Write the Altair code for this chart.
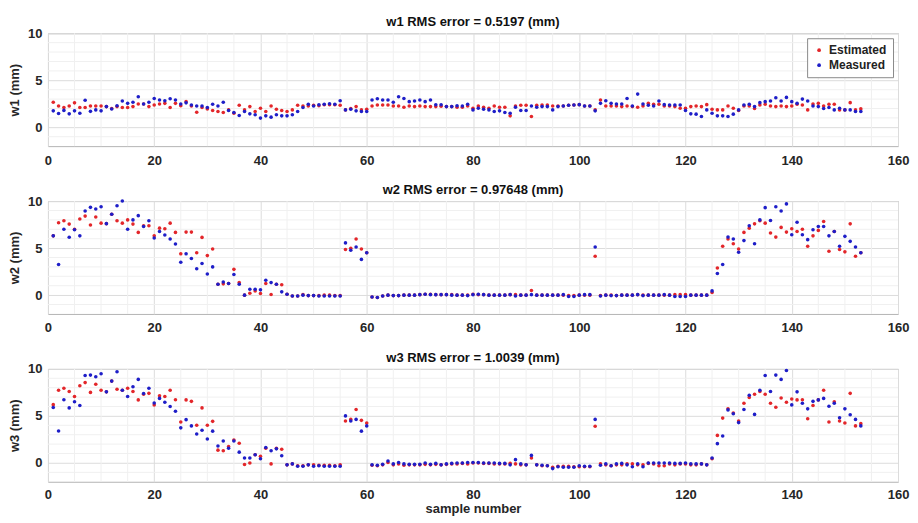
import altair as alt
import pandas as pd

samples = list(range(1, 154))

w1_est = [2.66, 2.27, 2.1, 2.27, 2.6, 2.1, 2.1, 2.27, 2.27, 2.27,
          2.2, 2.0, 2.2, 2.1, 2.1, 2.2, 2.48, 2.48, 2.2, 2.38,
          2.48, 2.55, 2.1, 2.55, 2.3, 2.73, 2.27, 1.6, 2.1, 1.96,
          1.78, 1.68, 1.57, 1.85, 1.5, 2.34, 1.85, 2.2, 1.68, 2.03,
          1.68, 2.27, 1.92, 1.78, 1.68, 1.85, 2.34, 2.27, 2.27, 2.34,
          2.3, 2.4, 2.4, 2.4, 2.35, 1.85, 2.0, 2.2, 1.85, 1.92,
          2.27, 2.38, 2.38, 2.38, 2.27, 2.27, 2.13, 2.27, 2.2, 2.27,
          2.2, 2.2, 2.2, 2.25, 2.2, 2.2, 2.13, 2.13, 2.27, 2.03,
          2.27, 2.13, 2.03, 2.27, 2.13, 2.13, 1.22, 2.27, 2.34, 2.34,
          1.15, 2.34, 2.38, 2.38, 2.27, 2.27, 2.27, 2.34, 2.38, 2.41,
          2.27, 2.27, 1.85, 2.9, 2.27, 2.27, 2.27, 2.2, 2.27, 2.2,
          2.13, 2.27, 2.55, 2.45, 2.45, 2.27, 2.27, 2.2, 2.03, 2.03,
          2.2, 2.27, 2.2, 2.41, 1.92, 1.85, 1.85, 2.27, 2.03, 1.78,
          2.27, 2.27, 2.0, 2.38, 2.45, 2.27, 2.2, 2.27, 2.2, 2.27,
          2.45, 2.38, 1.85, 2.48, 2.55, 2.27, 2.45, 2.45, 1.85, 1.85,
          2.62, 1.85, 1.96]
w1_meas = [1.75, 1.47, 1.8, 1.43, 1.75, 1.5, 2.87, 1.7, 1.85, 1.75,
           2.2, 1.95, 2.3, 2.8, 2.55, 2.66, 3.25, 2.48, 2.66, 3.07,
           2.9, 2.83, 3.04, 2.9, 2.48, 2.6, 2.38, 2.27, 2.27, 2.1,
           2.45, 2.27, 2.66, 1.78, 1.57, 1.26, 1.68, 1.43, 1.33, 0.98,
           1.22, 1.08, 1.33, 1.22, 1.22, 1.33, 1.68, 2.1, 2.45, 2.27,
           2.4, 2.45, 2.5, 2.45, 2.83, 1.85, 1.92, 1.75, 1.68, 1.68,
           2.9, 3.04, 2.9, 2.9, 2.66, 3.25, 3.07, 2.73, 2.8, 2.9,
           2.73, 2.9, 2.4, 2.4, 2.2, 2.2, 2.3, 2.27, 2.45, 1.85,
           2.03, 1.92, 1.85, 1.68, 1.75, 1.57, 1.5, 2.13, 1.78, 1.78,
           2.27, 2.13, 2.2, 2.2, 1.85, 2.2, 2.27, 2.34, 2.38, 2.41,
           2.27, 2.27, 1.75, 2.55, 2.83, 2.55, 2.48, 2.48, 3.07, 2.27,
           3.53, 2.48, 2.34, 2.27, 2.8, 2.41, 2.38, 2.38, 2.38, 1.78,
           1.43, 1.4, 1.15, 1.85, 1.5, 1.22, 1.22, 1.15, 1.4, 1.85,
           2.38, 2.45, 2.2, 2.62, 2.73, 2.8, 3.15, 2.8, 3.18, 2.73,
           2.55, 3.0, 2.8, 2.27, 2.2, 2.0, 2.1, 1.85, 2.03, 1.85,
           1.85, 1.68, 1.68]

w2_est = [6.3, 7.7, 7.9, 7.55, 7.0, 8.1, 8.4, 7.45, 8.3, 7.65,
          7.6, 8.6, 7.9, 7.65, 8.0, 7.55, 6.67, 7.37, 7.37, 6.3,
          7.12, 7.05, 7.65, 6.67, 4.4, 6.7, 6.7, 4.5, 6.14, 4.2,
          4.9, 1.16, 1.2, 1.23, 2.74, 1.33, 0.0, 0.2, 0.45, 0.17,
          1.23, 0.07, 1.16, 1.1, 0.1, -0.1, -0.1, 0.05, -0.05, -0.05,
          -0.05, 0.0, 0.0, -0.05, -0.05, 4.85, 4.98, 5.96, 4.9, 4.5,
          -0.2, -0.25, -0.1, 0.0, -0.05, -0.05, 0.0, 0.0, 0.0, 0.05,
          0.1, 0.1, 0.05, 0.05, 0.05, 0.05, 0.0, 0.0, 0.0, 0.1,
          0.05, 0.05, 0.0, 0.0, 0.0, 0.0, 0.05, 0.05, 0.0, 0.0,
          0.5, 0.0, 0.0, 0.0, 0.0, 0.0, 0.0, -0.05, -0.05, 0.0,
          0.0, 0.0, 4.14, -0.05, 0.0, 0.0, -0.05, 0.0, 0.0, 0.0,
          0.05, 0.0, 0.0, 0.0, 0.0, 0.0, 0.0, 0.05, 0.05, 0.05,
          0.0, 0.0, 0.0, 0.0, 0.28, 2.88, 5.2, 5.96, 5.47, 4.9,
          6.67, 7.12, 7.58, 7.9, 7.65, 6.6, 6.17, 7.2, 6.7, 7.05,
          6.77, 7.0, 5.2, 6.3, 6.88, 7.82, 4.67, 6.77, 4.85, 4.6,
          7.58, 4.14, 4.5]
w2_meas = [6.3, 3.26, 7.0, 6.15, 6.95, 6.3, 8.95, 9.33, 9.16, 9.4,
           7.6, 8.6, 9.5, 10.0, 7.0, 8.0, 8.45, 7.3, 7.9, 6.07,
           6.77, 6.4, 5.96, 5.44, 3.5, 4.4, 3.9, 2.8, 3.37, 2.25,
           3.0, 1.16, 1.4, 1.23, 2.2, 1.16, 0.0, 0.63, 0.63, 0.56,
           1.58, 1.33, 1.16, 0.35, 0.1, -0.1, -0.1, 0.0, -0.05, -0.05,
           -0.1, -0.1, -0.1, -0.1, -0.1, 5.55, 4.77, 5.12, 3.8, 4.5,
           -0.2, -0.25, -0.1, 0.0, -0.05, -0.05, 0.0, 0.0, 0.0, 0.05,
           0.1, 0.05, 0.05, 0.05, 0.05, 0.0, 0.0, 0.0, -0.05, 0.05,
           0.1, 0.05, 0.0, 0.0, 0.0, 0.0, 0.05, -0.1, 0.0, 0.0,
           0.05, 0.0, 0.0, 0.0, 0.0, 0.0, 0.05, -0.15, -0.15, 0.0,
           0.05, 0.05, 5.12, -0.1, 0.0, -0.05, -0.05, 0.0, 0.0, 0.0,
           0.05, -0.05, 0.0, 0.0, 0.0, 0.05, 0.0, -0.15, -0.15, -0.15,
           0.0, 0.0, 0.0, 0.0, 0.45, 2.3, 3.26, 6.17, 5.96, 4.56,
           5.8, 7.37, 5.47, 8.0, 9.3, 7.93, 9.4, 8.95, 9.7, 6.42,
           7.75, 6.42, 5.9, 6.95, 7.3, 7.3, 6.3, 6.77, 5.2, 6.25,
           5.72, 5.12, 4.5]

w3_est = [6.2, 7.73, 7.94, 7.6, 7.07, 8.2, 8.54, 7.5, 8.36, 7.73,
          7.56, 8.7, 7.84, 7.73, 7.94, 7.6, 6.7, 7.3, 7.4, 6.17,
          7.14, 7.07, 7.73, 6.72, 4.36, 6.7, 6.55, 4.0, 5.85, 4.0,
          4.42, 1.36, 1.3, 1.74, 2.44, 2.1, -0.17, 0.0, 0.87, 0.7,
          1.57, -0.1, 1.57, 1.46, -0.2, -0.1, -0.3, -0.3, -0.2, -0.2,
          -0.25, -0.25, -0.25, -0.3, -0.2, 4.46, 4.63, 5.68, 4.53, 4.25,
          -0.25, -0.3, -0.2, 0.05, -0.2, -0.1, -0.25, -0.2, -0.2, -0.2,
          -0.15, -0.2, -0.15, -0.2, -0.15, -0.1, -0.1, -0.05, -0.1, 0.0,
          0.0, -0.05, -0.05, -0.1, -0.1, -0.1, -0.05, -0.1, -0.2, -0.2,
          0.52, -0.2, -0.3, -0.3, -0.45, -0.35, -0.35, -0.35, -0.4, -0.4,
          -0.4, -0.4, 3.9, -0.1, -0.2, -0.3, -0.2, -0.2, -0.1, -0.1,
          -0.2, -0.2, -0.05, -0.1, -0.3, -0.3, -0.1, -0.2, -0.1, -0.1,
          -0.2, -0.2, -0.1, -0.2, 0.45, 2.93, 4.77, 5.75, 5.3, 4.46,
          6.34, 6.97, 7.3, 7.6, 7.3, 6.34, 5.92, 6.9, 6.45, 6.8,
          6.7, 6.72, 4.7, 6.1, 6.7, 7.73, 4.36, 6.5, 4.46, 4.25,
          7.4, 3.94, 4.18]
w3_meas = [5.9, 3.4, 6.72, 5.85, 6.5, 6.1, 9.3, 9.34, 9.16, 9.48,
           7.56, 8.7, 9.69, 7.73, 7.07, 8.1, 8.88, 7.38, 7.94, 6.38,
           6.86, 6.45, 6.0, 5.5, 3.73, 4.6, 3.94, 3.07, 3.48, 2.54,
           3.38, 1.8, 2.33, 1.57, 2.33, 1.15, 0.52, 0.52, 0.87, 0.45,
           1.64, 1.3, 1.5, 0.77, -0.2, -0.1, -0.35, -0.35, -0.2, -0.35,
           -0.3, -0.35, -0.35, -0.35, -0.35, 5.0, 4.46, 4.63, 3.38, 3.94,
           -0.2, -0.25, -0.15, 0.2, -0.1, 0.05, -0.1, -0.15, -0.15, -0.15,
           0.0, -0.15, -0.05, -0.2, -0.1, -0.05, 0.0, 0.0, 0.05, 0.05,
           0.05, 0.0, 0.0, 0.0, -0.05, -0.05, -0.2, 0.35, -0.1, -0.2,
           0.8, -0.2, -0.25, -0.3, -0.6, -0.4, -0.45, -0.45, -0.45, -0.3,
           -0.35, -0.35, 4.63, -0.25, -0.1, -0.3, -0.1, -0.05, -0.2, -0.4,
           -0.1, -0.4, 0.0, 0.0, 0.0, 0.0, 0.0, -0.05, -0.05, 0.0,
           -0.1, -0.1, -0.1, -0.2, 0.52, 2.05, 2.86, 5.64, 5.23, 4.29,
           5.68, 7.2, 5.16, 7.73, 9.3, 7.6, 9.34, 8.88, 9.83, 6.17,
           7.56, 6.34, 5.75, 6.55, 6.7, 6.86, 6.03, 6.34, 4.8, 5.75,
           5.12, 4.63, 3.94]

series_names = ["Estimated", "Measured"]
series_colors = ["#e3262a", "#1e1ec8"]
panel_titles = ["w1 RMS error = 0.5197 (mm)", "w2 RMS error = 0.97648 (mm)", "w3 RMS error = 1.0039 (mm)"]
y_titles = ["w1 (mm)", "w2 (mm)", "w3 (mm)"]
x_ticks = [0, 20, 40, 60, 80, 100, 120, 140, 160]
y_ticks = [0, 5, 10]
x_minor = [v for v in range(5, 160, 5) if v % 20 != 0]
y_minor = [-1, 1, 2, 3, 4, 6, 7, 8, 9]

FONT = "Liberation Sans"
PW, PH = 851, 113


def panel(est, meas, title, ytitle, first, last):
    df = pd.DataFrame({
        "sample": samples + samples,
        "value": est + meas,
        "series": [series_names[0]] * len(est) + [series_names[1]] * len(meas),
    })
    xscale = alt.Scale(domain=[0, 160], nice=False, zero=False)
    yscale = alt.Scale(domain=[-2, 10], nice=False, zero=False)
    xaxis = alt.Axis(values=x_ticks, grid=True, ticks=False, domain=False, labelFlush=False,
                     title="sample number" if last else None,
                     labelPadding=7 if last else 8, titlePadding=1)
    yaxis = alt.Axis(values=y_ticks, grid=True, ticks=False, domain=False, labelFlush=False,
                     title=ytitle, labelPadding=6, titlePadding=6)
    vx = alt.Chart(pd.DataFrame({"m": x_minor})).mark_rule(color="#f0f0f0", strokeWidth=1).encode(
        x=alt.X("m:Q", scale=xscale, axis=xaxis))
    hy = alt.Chart(pd.DataFrame({"m": y_minor})).mark_rule(color="#f0f0f0", strokeWidth=1).encode(
        y=alt.Y("m:Q", scale=yscale, axis=yaxis))
    legend = alt.Legend(orient="top-right", title=None, strokeColor="#8a8a8a", fillColor="white",
                        padding=6, offset=5, labelFont=FONT, labelFontWeight="bold",
                        labelFontSize=12, labelColor="#222222", symbolSize=14, rowPadding=3,
                        symbolType="circle") if first else None
    pts = alt.Chart(df).mark_circle(size=13, opacity=1).encode(
        x=alt.X("sample:Q", scale=xscale, axis=xaxis),
        y=alt.Y("value:Q", scale=yscale, axis=yaxis),
        color=alt.Color("series:N", scale=alt.Scale(domain=series_names, range=series_colors),
                        legend=legend),
        order=alt.Order("order_key:Q"),
    ).transform_calculate(order_key="datum.series == 'Measured' ? 1 : 0")
    return alt.layer(vx, hy, pts).properties(
        width=PW, height=PH,
        title=alt.TitleParams(title, font=FONT, fontSize=13, fontWeight="bold", color="#111111",
                              anchor="middle", offset=-2),
    )


chart = alt.vconcat(
    panel(w1_est, w1_meas, panel_titles[0], y_titles[0], True, False),
    panel(w2_est, w2_meas, panel_titles[1], y_titles[1], False, False),
    panel(w3_est, w3_meas, panel_titles[2], y_titles[2], False, True),
    spacing=15,
).resolve_legend(color="independent").properties(
    padding={"left": 0, "top": 7, "right": 0, "bottom": 0},
    background="white",
).configure_view(stroke="#b4b4b4", strokeWidth=1).configure_axis(
    labelFont=FONT, labelFontSize=13, labelFontWeight="bold", labelColor="#262626",
    titleFont=FONT, titleFontSize=13, titleFontWeight="bold", titleColor="#262626",
    gridColor="#dcdcdc", gridWidth=1,
)

chart.save("out.html", embed_options={"renderer": "svg", "actions": False})
